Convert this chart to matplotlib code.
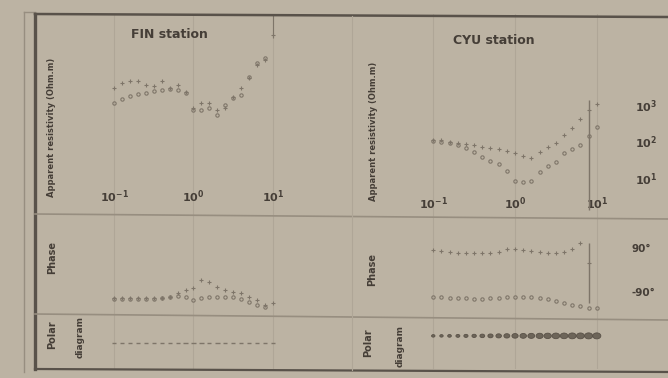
import matplotlib
matplotlib.use("Agg")
import numpy as np
import matplotlib.pyplot as plt
from matplotlib.lines import Line2D
from matplotlib.path import Path
from matplotlib.transforms import Affine2D
from matplotlib.ticker import NullLocator

W, H = 668, 378

BG = "#bcb3a3"
INK = "#453e37"
FRAME = "#59524a"
SEP = "#978e80"
GRID = "#afa697"
MARK = "#7e7569"

plt.rcParams["font.family"] = ["DejaVu Sans"]
plt.rcParams["font.weight"] = "bold"
plt.rcParams["mathtext.fontset"] = "dejavusans"

# sounding periods (s), shared by both stations
periods = [0.1, 0.126, 0.158, 0.2, 0.251, 0.316, 0.398, 0.501, 0.631, 0.794,
           1.0, 1.26, 1.58, 2.0, 2.51, 3.16, 3.98, 5.01, 6.31, 7.94, 10.0]

# FIN station: apparent resistivity (ohm.m) and phase (deg)
fin_rho_xy = [2924, 4009, 4550, 4550, 3532, 3319, 4550, 2924, 3532, 2270, 828,
              1135, 1135, 730, 828, 1656, 2924, 5495, 12470, 17100, 82800]
fin_rho_yx = [1135, 1459, 1766, 2000, 2133, 2421, 2576, 2742, 2576, 2133, 730,
              730, 828, 532, 1000, 1556, 1879, 5848, 14160, 19410, np.nan]
fin_rho_bar = [69000, 355000]
fin_phase_xy = [-114.5, -114.5, -114.5, -114.5, -114.5, -114.5, -114.5, -110.4,
                -94.1, -81.8, -73.6, -40.9, -49.1, -69.5, -81.8, -90.0, -94.1,
                -110.4, -122.7, -143.1, -135.0]
fin_phase_yx = [-118.6, -118.6, -118.6, -118.6, -118.6, -118.6, -114.5, -110.4,
                -106.3, -110.4, -122.7, -114.5, -110.4, -110.4, -110.4, -110.4,
                -118.6, -130.9, -143.1, -151.3, np.nan]
fin_polar = [9, 9, 9, 9, 9, 9, 9, 9, 9, 9, 9, 9, 9, 9, 9, 9, 9, 9, 9, 9, 9]

# CYU station
cyu_rho_xy = [110, 110, 97, 91, 85, 80, 71, 66, 62, 55, 48,
              40, 35, 52, 71, 91, 151, 234, 413, 730, 1065]
cyu_rho_yx = [103, 97, 91, 80, 66, 52, 38, 29, 24, 16, 8.3,
              7.8, 8.3, 15, 21, 27, 48, 62, 80, 142, 250]
cyu_rho_bar = [1.3, 1400]
cyu_phase_xy = [81.8, 77.7, 73.6, 69.5, 69.5, 69.5, 69.5, 69.5, 73.6, 85.9, 85.9,
                81.8, 77.7, 73.6, 69.5, 69.5, 73.6, 85.9, 110.5, 28.6, np.nan]
cyu_phase_yx = [-110.4, -110.4, -114.5, -114.5, -114.5, -118.6, -118.6, -114.5,
                -114.5, -110.4, -110.4, -110.4, -110.4, -114.5, -118.6, -126.8,
                -135.0, -143.1, -147.2, -155.4, -155.4]
cyu_phase_bar = [-135, 110]
cyu_polar = [6, 6, 7, 8, 9, 10, 12, 14, 16, 18, 20, 22, 24, 26, 28, 30, 30, 32, 32, 34, 34]

x_ticks = [0.1, 1, 10]
x_labels = [r"$\mathbf{10^{-1}}$", r"$\mathbf{10^{0}}$", r"$\mathbf{10^{1}}$"]
rho_ticks = [10, 100, 1000]
rho_labels = [r"$\mathbf{10^{1}}$", r"$\mathbf{10^{2}}$", r"$\mathbf{10^{3}}$"]
phase_ticks = [90, -90]
phase_labels = ["90°", "-90°"]

# flattened ellipse used for the polar diagrams
ELLIPSE = Path.unit_circle().transformed(Affine2D().scale(1.35, 1.0))


def rect(x0, y0, x1, y1):
    return [x0 / W, 1 - y1 / H, (x1 - x0) / W, (y1 - y0) / H]


def fline(x0, y0, x1, y1, **kw):
    fig.add_artist(Line2D([x0 / W, x1 / W], [1 - y0 / H, 1 - y1 / H],
                          transform=fig.transFigure, **kw))


def ftext(x, y, s, **kw):
    kw.setdefault("ha", "center")
    kw.setdefault("va", "center")
    fig.text(x / W, 1 - y / H, s, color=INK, fontweight="bold", **kw)


def column(x0, x1, xlim, polar_y0):
    axs = [fig.add_axes(rect(x0, 14, x1, 215)),
           fig.add_axes(rect(x0, 215, x1, 316)),
           fig.add_axes(rect(x0, 316, x1, 369))]
    for ax in axs:
        ax.set_xscale("log")
        ax.set_xlim(*xlim)
        ax.patch.set_visible(False)
        for s in ax.spines.values():
            s.set_visible(False)
        ax.xaxis.set_minor_locator(NullLocator())
        ax.set_xticks(x_ticks)
        ax.tick_params(length=0, labelleft=False, labelbottom=False)
        for p in x_ticks:
            ax.axvline(p, color=GRID, lw=0.8, zorder=0)
    top, mid, bot = axs
    top.set_yscale("log")
    top.set_ylim(10 ** -0.014, 10 ** 5.49)
    top.yaxis.set_minor_locator(NullLocator())
    top.set_yticks([])
    mid.set_ylim(-188, 225)
    mid.set_yticks([])
    bot.set_ylim(polar_y0, polar_y0 + 2)
    bot.set_yticks([])
    top.set_xticklabels(x_labels)
    return top, mid, bot


fig = plt.figure(figsize=(W / 100, H / 100), dpi=100, facecolor=BG)

# frame and row separators
fline(24, 12, 24, 372, color=SEP, lw=1.0)
fline(24, 12, 35, 12, color=SEP, lw=1.0)
fline(35, 14, 35, 369, color=FRAME, lw=2.4)
fline(35, 14, 668, 17, color=FRAME, lw=1.8)
fline(35, 369, 668, 372, color=FRAME, lw=1.6)
fline(35, 214, 668, 219, color=SEP, lw=1.2)
fline(35, 314, 668, 320, color=SEP, lw=1.2)
fline(352, 16, 352, 370, color=GRID, lw=0.8)

mk = dict(color=MARK, lw=0, markersize=3.2, markeredgewidth=0.8)
mo = dict(mk, markersize=2.4, mfc="none")

# FIN station
ft, fm, fb = column(35, 352, (10 ** -1.994, 10 ** 1.994), -1)
ft.plot(periods, fin_rho_xy, marker="+", **mk)
ft.plot(periods, fin_rho_yx, marker="o", **mo)
ft.vlines(periods[-1], *fin_rho_bar, color=MARK, lw=0.8)
ft.tick_params(axis="x", labelbottom=True, pad=-19, labelsize=8, labelcolor=INK)
fm.plot(periods, fin_phase_xy, marker="+", **mk)
fm.plot(periods, fin_phase_yx, marker="o", **mo)
fb.scatter(periods, np.zeros(len(periods)), s=fin_polar, marker="_",
           color=MARK, linewidths=1.0)

# CYU station
ct, cm, cb = column(352, 668, (10 ** -1.994, 10 ** 1.871), -1.25)
ct.plot(periods, cyu_rho_xy, marker="+", **mk)
ct.plot(periods, cyu_rho_yx, marker="o", **mo)
ct.vlines(periods[19], *cyu_rho_bar, color=MARK, lw=1.0)
ct.tick_params(axis="x", labelbottom=True, pad=-14, labelsize=8, labelcolor=INK)
ct.set_yticks(rho_ticks, labels=rho_labels)
ct.tick_params(axis="y", labelright=True, pad=-24, labelsize=8, labelcolor=INK)
cm.plot(periods, cyu_phase_xy, marker="+", **mk)
cm.plot(periods, cyu_phase_yx, marker="o", **mo)
cm.vlines(periods[19], *cyu_phase_bar, color=MARK, lw=1.0)
cm.set_yticks(phase_ticks, labels=phase_labels)
cm.tick_params(axis="y", labelright=True, pad=-26, labelsize=7.5, labelcolor=INK)
cb.scatter(periods, np.zeros(len(periods)), s=cyu_polar, marker=ELLIPSE,
           facecolor="#6d6559", edgecolor="#595147", linewidths=0.6)

# titles and row labels
ftext(169, 34, "FIN station", fontsize=9)
ftext(494, 40, "CYU station", fontsize=9)
ftext(52, 127, "Apparent resistivity (Ohm.m)", fontsize=6, rotation=90)
ftext(373, 131, "Apparent resistivity (Ohm.m)", fontsize=6, rotation=90)
ftext(52, 258, "Phase", fontsize=7, rotation=90)
ftext(372, 269, "Phase", fontsize=7, rotation=90)
ftext(52, 335, "Polar", fontsize=7, rotation=90)
ftext(80, 337, "diagram", fontsize=6.5, rotation=90)
ftext(368, 343, "Polar", fontsize=7, rotation=90)
ftext(400, 346, "diagram", fontsize=6.5, rotation=90)

fig.savefig("out.png", dpi=100, facecolor=BG)
